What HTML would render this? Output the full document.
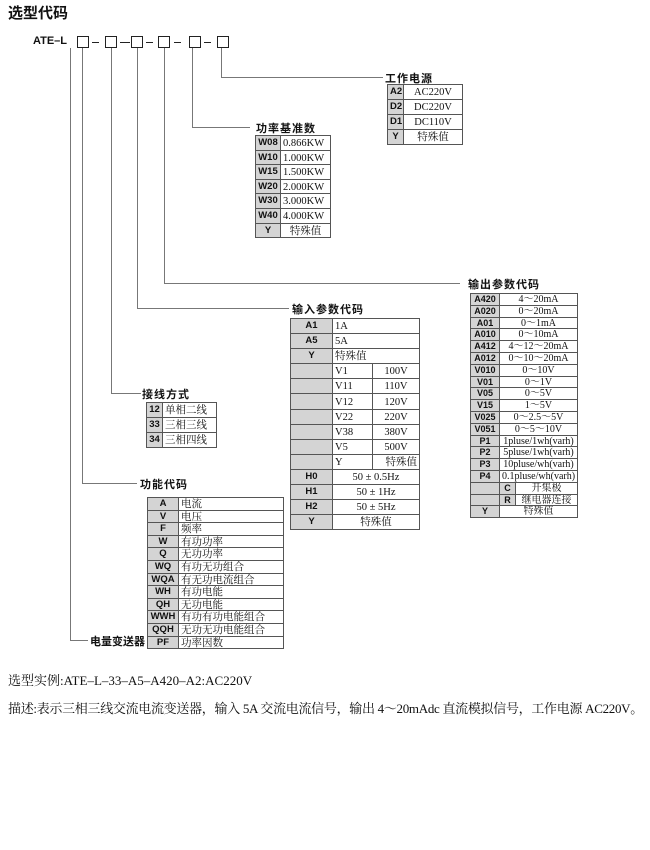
<!DOCTYPE html>
<html><head><meta charset="utf-8"><style>
body{margin:0;width:650px;height:850px;background:#fff;position:relative;font-family:"Liberation Serif","Noto Serif CJK SC",serif;color:#111;overflow:hidden}
.a{position:absolute}
.h{position:absolute;background:#777;height:1px}
.v{position:absolute;background:#777;width:1px}
.lbl{position:absolute;font-family:"Liberation Sans","Noto Sans CJK SC",sans-serif;font-size:11px;font-weight:bold;white-space:nowrap;letter-spacing:1px}
table{position:absolute;border-collapse:collapse;font-size:10.5px;table-layout:fixed}
td{border:1px solid #555;padding:0 2px;white-space:nowrap;overflow:hidden;vertical-align:middle}
td.c{background:#d4d4d4;font-family:"Liberation Sans",sans-serif;font-weight:bold;text-align:center;font-size:9.5px}
td span{position:relative;top:1px}
.r15 td{height:14px;line-height:14px}
.r146 td{height:13.6px;line-height:13.6px}
.r16 td{height:14.1px;line-height:14px}
.r126 td{height:11.6px;line-height:11.6px}
.r118 td{height:10.8px;line-height:10.8px;font-size:10px}
.r118 td.c{font-size:9px}
.bx{position:absolute;width:10px;height:10px;border:1px solid #222;top:36px}
</style></head><body>
<div class="a" style="left:8px;top:2px;font-family:'Liberation Sans','Noto Sans CJK SC',sans-serif;font-weight:bold;font-size:15px">选型代码</div>
<div class="a" style="left:33px;top:35px;font-family:'Liberation Sans',sans-serif;font-weight:bold;font-size:11px">ATE–L</div>
<div class="bx" style="left:77px"></div><div class="bx" style="left:105px"></div><div class="bx" style="left:131px"></div><div class="bx" style="left:158px"></div><div class="bx" style="left:189px"></div><div class="bx" style="left:217px"></div>
<div class="h" style="left:92px;top:42px;width:7px;background:#222"></div>
<div class="h" style="left:120px;top:42px;width:10px;background:#222"></div>
<div class="h" style="left:146px;top:42px;width:7px;background:#222"></div>
<div class="h" style="left:174px;top:42px;width:7px;background:#222"></div>
<div class="h" style="left:204px;top:42px;width:7px;background:#222"></div>
<div class="v" style="left:221px;top:48px;height:29px"></div><div class="h" style="left:221px;top:77px;width:162px"></div>
<div class="v" style="left:192px;top:48px;height:79px"></div><div class="h" style="left:192px;top:127px;width:58px"></div>
<div class="v" style="left:164px;top:48px;height:235px"></div><div class="h" style="left:164px;top:283px;width:296px"></div>
<div class="v" style="left:137px;top:48px;height:260px"></div><div class="h" style="left:137px;top:308px;width:152px"></div>
<div class="v" style="left:111px;top:48px;height:345px"></div><div class="h" style="left:111px;top:393px;width:30px"></div>
<div class="v" style="left:82px;top:48px;height:435px"></div><div class="h" style="left:82px;top:483px;width:55px"></div>
<div class="v" style="left:70px;top:48px;height:592px"></div><div class="h" style="left:70px;top:640px;width:18px"></div>
<div class="lbl" style="left:385px;top:70px">工作电源</div>
<div class="lbl" style="left:256px;top:120px">功率基准数</div>
<div class="lbl" style="left:468px;top:276px">输出参数代码</div>
<div class="lbl" style="left:292px;top:301px">输入参数代码</div>
<div class="lbl" style="left:142px;top:386px">接线方式</div>
<div class="lbl" style="left:140px;top:476px">功能代码</div>
<div class="lbl" style="left:90px;top:633px;letter-spacing:0">电量变送器</div>
<table class="r15" style="left:387px;top:84px;width:76px">
<col style="width:16px"><col>
<tr><td class="c">A2</td><td style="text-align:center"><span>AC220V</span></td></tr>
<tr><td class="c">D2</td><td style="text-align:center"><span>DC220V</span></td></tr>
<tr><td class="c">D1</td><td style="text-align:center"><span>DC110V</span></td></tr>
<tr><td class="c">Y</td><td style="text-align:center"><span>特殊值</span></td></tr>
</table>
<table class="r146" style="left:255px;top:135px;width:76px">
<col style="width:25px"><col>
<tr><td class="c">W08</td><td><span>0.866KW</span></td></tr>
<tr><td class="c">W10</td><td><span>1.000KW</span></td></tr>
<tr><td class="c">W15</td><td><span>1.500KW</span></td></tr>
<tr><td class="c">W20</td><td><span>2.000KW</span></td></tr>
<tr><td class="c">W30</td><td><span>3.000KW</span></td></tr>
<tr><td class="c">W40</td><td><span>4.000KW</span></td></tr>
<tr><td class="c">Y</td><td style="text-align:center"><span>特殊值</span></td></tr>
</table>
<table class="r16" style="left:290px;top:318px;width:130px">
<col style="width:42px"><col style="width:40px"><col>
<tr><td class="c">A1</td><td colspan="2"><span>1A</span></td></tr>
<tr><td class="c">A5</td><td colspan="2"><span>5A</span></td></tr>
<tr><td class="c">Y</td><td colspan="2"><span>特殊值</span></td></tr>
<tr><td class="c"></td><td><span>V1</span></td><td style="text-align:center"><span>100V</span></td></tr>
<tr><td class="c"></td><td><span>V11</span></td><td style="text-align:center"><span>110V</span></td></tr>
<tr><td class="c"></td><td><span>V12</span></td><td style="text-align:center"><span>120V</span></td></tr>
<tr><td class="c"></td><td><span>V22</span></td><td style="text-align:center"><span>220V</span></td></tr>
<tr><td class="c"></td><td><span>V38</span></td><td style="text-align:center"><span>380V</span></td></tr>
<tr><td class="c"></td><td><span>V5</span></td><td style="text-align:center"><span>500V</span></td></tr>
<tr><td class="c"></td><td><span>Y</span></td><td style="text-align:right"><span>特殊值</span></td></tr>
<tr><td class="c">H0</td><td colspan="2" style="text-align:center"><span>50 ± 0.5Hz</span></td></tr>
<tr><td class="c">H1</td><td colspan="2" style="text-align:center"><span>50 ± 1Hz</span></td></tr>
<tr><td class="c">H2</td><td colspan="2" style="text-align:center"><span>50 ± 5Hz</span></td></tr>
<tr><td class="c">Y</td><td colspan="2" style="text-align:center"><span>特殊值</span></td></tr>
</table>
<table class="r15" style="left:146px;top:402px;width:71px">
<col style="width:16px"><col>
<tr><td class="c">12</td><td><span>单相二线</span></td></tr>
<tr><td class="c">33</td><td><span>三相三线</span></td></tr>
<tr><td class="c">34</td><td><span>三相四线</span></td></tr>
</table>
<table class="r126" style="left:147px;top:497px;width:137px">
<col style="width:31px"><col>
<tr><td class="c">A</td><td><span>电流</span></td></tr>
<tr><td class="c">V</td><td><span>电压</span></td></tr>
<tr><td class="c">F</td><td><span>频率</span></td></tr>
<tr><td class="c">W</td><td><span>有功功率</span></td></tr>
<tr><td class="c">Q</td><td><span>无功功率</span></td></tr>
<tr><td class="c">WQ</td><td><span>有功无功组合</span></td></tr>
<tr><td class="c">WQA</td><td><span>有无功电流组合</span></td></tr>
<tr><td class="c">WH</td><td><span>有功电能</span></td></tr>
<tr><td class="c">QH</td><td><span>无功电能</span></td></tr>
<tr><td class="c">WWH</td><td><span>有功有功电能组合</span></td></tr>
<tr><td class="c">QQH</td><td><span>无功无功电能组合</span></td></tr>
<tr><td class="c">PF</td><td><span>功率因数</span></td></tr>
</table>
<table class="r118" style="left:470px;top:293px;width:108px">
<col style="width:29px"><col style="width:16px"><col>
<tr><td class="c">A420</td><td colspan="2" style="text-align:center"><span>4～20mA</span></td></tr>
<tr><td class="c">A020</td><td colspan="2" style="text-align:center"><span>0～20mA</span></td></tr>
<tr><td class="c">A01</td><td colspan="2" style="text-align:center"><span>0～1mA</span></td></tr>
<tr><td class="c">A010</td><td colspan="2" style="text-align:center"><span>0～10mA</span></td></tr>
<tr><td class="c">A412</td><td colspan="2" style="text-align:center"><span>4～12～20mA</span></td></tr>
<tr><td class="c">A012</td><td colspan="2" style="text-align:center"><span>0～10～20mA</span></td></tr>
<tr><td class="c">V010</td><td colspan="2" style="text-align:center"><span>0～10V</span></td></tr>
<tr><td class="c">V01</td><td colspan="2" style="text-align:center"><span>0～1V</span></td></tr>
<tr><td class="c">V05</td><td colspan="2" style="text-align:center"><span>0～5V</span></td></tr>
<tr><td class="c">V15</td><td colspan="2" style="text-align:center"><span>1～5V</span></td></tr>
<tr><td class="c">V025</td><td colspan="2" style="text-align:center"><span>0～2.5～5V</span></td></tr>
<tr><td class="c">V051</td><td colspan="2" style="text-align:center"><span>0～5～10V</span></td></tr>
<tr><td class="c">P1</td><td colspan="2" style="text-align:center"><span>1pluse/1wh(varh)</span></td></tr>
<tr><td class="c">P2</td><td colspan="2" style="text-align:center"><span>5pluse/1wh(varh)</span></td></tr>
<tr><td class="c">P3</td><td colspan="2" style="text-align:center"><span>10pluse/wh(varh)</span></td></tr>
<tr><td class="c">P4</td><td colspan="2" style="text-align:center"><span>0.1pluse/wh(varh)</span></td></tr>
<tr><td class="c"></td><td class="c">C</td><td style="text-align:center"><span>开集极</span></td></tr>
<tr><td class="c"></td><td class="c">R</td><td style="text-align:center"><span>继电器连接</span></td></tr>
<tr><td class="c">Y</td><td colspan="2" style="text-align:center"><span>特殊值</span></td></tr>
</table>
<div class="a" style="left:8px;top:670px;font-size:13px;white-space:nowrap">选型实例:ATE–L–33–A5–A420–A2:AC220V</div>
<div class="a" style="left:8px;top:698px;font-size:13px;white-space:nowrap;letter-spacing:-0.3px">描述:表示三相三线交流电流变送器，输入 5A 交流电流信号，输出 4～20mAdc 直流模拟信号，工作电源 AC220V。</div>
</body></html>
